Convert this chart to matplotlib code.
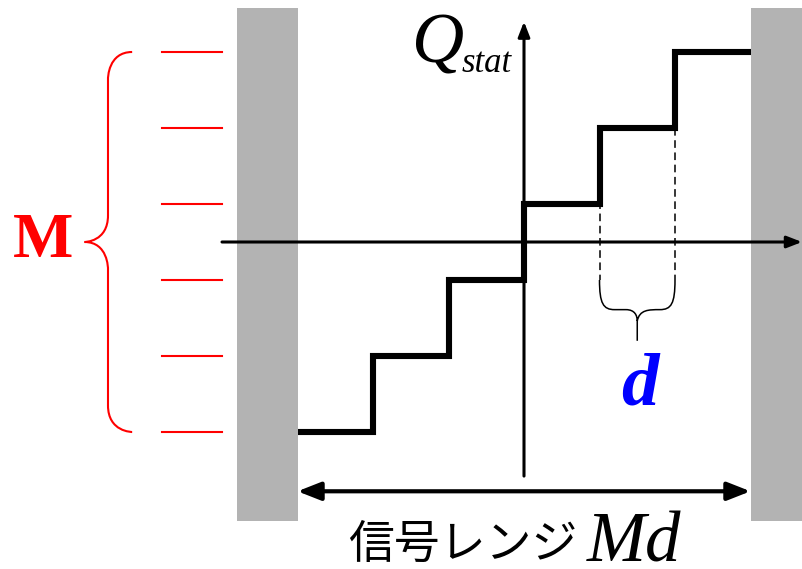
import matplotlib.pyplot as plt
import numpy as np
from matplotlib.path import Path
from matplotlib.patches import PathPatch, Rectangle

# quantizer: thresholds (in units of d) and output levels (in units of step)
thresholds = [-3, -2, -1, 0, 1, 2, 3]
levels = [-2.5, -1.5, -0.5, 0.5, 1.5, 2.5]
range_lo, range_hi = -3, 3

SX, SY = 75.5, 76.0  # pixels per unit
fig = plt.figure(figsize=(8.02, 5.69), dpi=100)
ax = fig.add_axes([0, 0, 1, 1])
ax.set_xlim(-524 / SX, 278 / SX)
ax.set_ylim(-327 / SY, 242 / SY)
ax.axis('off')

# gray walls outside the signal range
wall_w = 61 / SX
ax.add_patch(Rectangle((range_lo - wall_w, -3.67), wall_w, 6.75, color='#b3b3b3', lw=0, zorder=1))
ax.add_patch(Rectangle((range_hi, -3.67), 1.0, 6.75, color='#b3b3b3', lw=0, zorder=1))

# axes with arrows
ax.annotate('', xy=(278 / SX, 0), xytext=(-4.0, 0),
            arrowprops=dict(arrowstyle='-|>,head_length=0.9,head_width=0.35', lw=2.2, color='black',
                            shrinkA=0, shrinkB=0), zorder=2)
ax.annotate('', xy=(0, 2.9), xytext=(0, -3.08),
            arrowprops=dict(arrowstyle='-|>,head_length=0.9,head_width=0.35', lw=2.2, color='black',
                            shrinkA=0, shrinkB=0), zorder=2)

# staircase
ax.step(thresholds, levels + [levels[-1]], where='post', color='black', lw=4.4,
        solid_capstyle='butt', solid_joinstyle='miter', zorder=3)

# red level ticks
for lv in levels:
    ax.plot([-4.8, -4.0], [lv, lv], color='red', lw=1.5, zorder=2)


def brace_left(x_end, x_bar, x_tip, y_top, y_bot, color, lw):
    ym = (y_top + y_bot) / 2
    ry = 0.35
    verts = [(x_end, y_top), (x_bar, y_top), (x_bar, y_top - ry), (x_bar, y_top - ry),
             (x_bar, ym + ry),
             (x_bar, ym), (x_tip, ym), (x_tip, ym),
             (x_bar, ym), (x_bar, ym - ry), (x_bar, ym - ry),
             (x_bar, y_bot + ry),
             (x_bar, y_bot), (x_end, y_bot), (x_end, y_bot)]
    codes = [Path.MOVETO, Path.CURVE4, Path.CURVE4, Path.CURVE4,
             Path.LINETO,
             Path.CURVE4, Path.CURVE4, Path.CURVE4,
             Path.CURVE4, Path.CURVE4, Path.CURVE4,
             Path.LINETO,
             Path.CURVE4, Path.CURVE4, Path.CURVE4]
    ax.add_patch(PathPatch(Path(verts, codes), fc='none', ec=color, lw=lw, zorder=2))


brace_left(-5.19, -5.51, -5.82, levels[-1], levels[0], 'red', 1.5)

# dashed guides for one step width d
for xv in [1, 2]:
    ax.plot([xv, xv], [levels[4], -0.5], color='black', lw=1.1, ls=(0, (5, 3)), zorder=2)

# small brace under the step
x0, x1, yb, yt = 1, 2, -0.5, -0.89
xm = 1.5
verts = [(x0, yb), (x0, yt + 0.08), (x0 + 0.05, yt), (x0 + 0.2, yt),
         (xm - 0.15, yt),
         (xm - 0.03, yt), (xm, yt - 0.08), (xm, yt - 0.15),
         (xm, yt - 0.41),
         (xm, yt - 0.15), (xm + 0.03, yt), (xm + 0.15, yt),
         (x1 - 0.2, yt),
         (x1 - 0.2, yt),
         (x1 - 0.05, yt), (x1, yt + 0.08), (x1, yb)]
codes = [Path.MOVETO, Path.CURVE4, Path.CURVE4, Path.CURVE4,
         Path.LINETO,
         Path.CURVE4, Path.CURVE4, Path.CURVE4,
         Path.LINETO,
         Path.MOVETO, Path.CURVE4, Path.CURVE4,
         Path.LINETO,
         Path.MOVETO,
         Path.CURVE4, Path.CURVE4, Path.CURVE4]
ax.add_patch(PathPatch(Path(verts, codes), fc='none', ec='black', lw=1.1, zorder=2))

# double arrow: signal range
ax.annotate('', xy=(range_hi, -3.28), xytext=(range_lo, -3.28),
            arrowprops=dict(arrowstyle='<|-|>,head_length=1.4,head_width=0.55', lw=3.0, color='black',
                            shrinkA=0, shrinkB=0), zorder=3)

# labels
serif = 'Liberation Serif'
ax.text(-6.37, 0, 'M', color='red', fontsize=46, fontweight='bold', family=serif,
        ha='center', va='center')
ax.text(1.54, -1.9, 'd', color='blue', fontsize=54, fontweight='bold', style='italic',
        family=serif, ha='center', va='center')
ax.text(-1.49, 2.36, 'Q', fontsize=52, style='italic', family=serif, ha='left', va='baseline')
ax.text(-0.83, 2.24, 'stat', fontsize=25, style='italic', family=serif, ha='left', va='baseline')
ax.text(0.71, -4.16, '信号レンジ', fontsize=33, family=['Noto Sans CJK JP', 'DejaVu Sans'],
        ha='right', va='baseline')
ax.text(0.83, -4.2, 'Md', fontsize=51, style='italic', family=serif,
        ha='left', va='baseline')

fig.savefig('out.png', dpi=100)
